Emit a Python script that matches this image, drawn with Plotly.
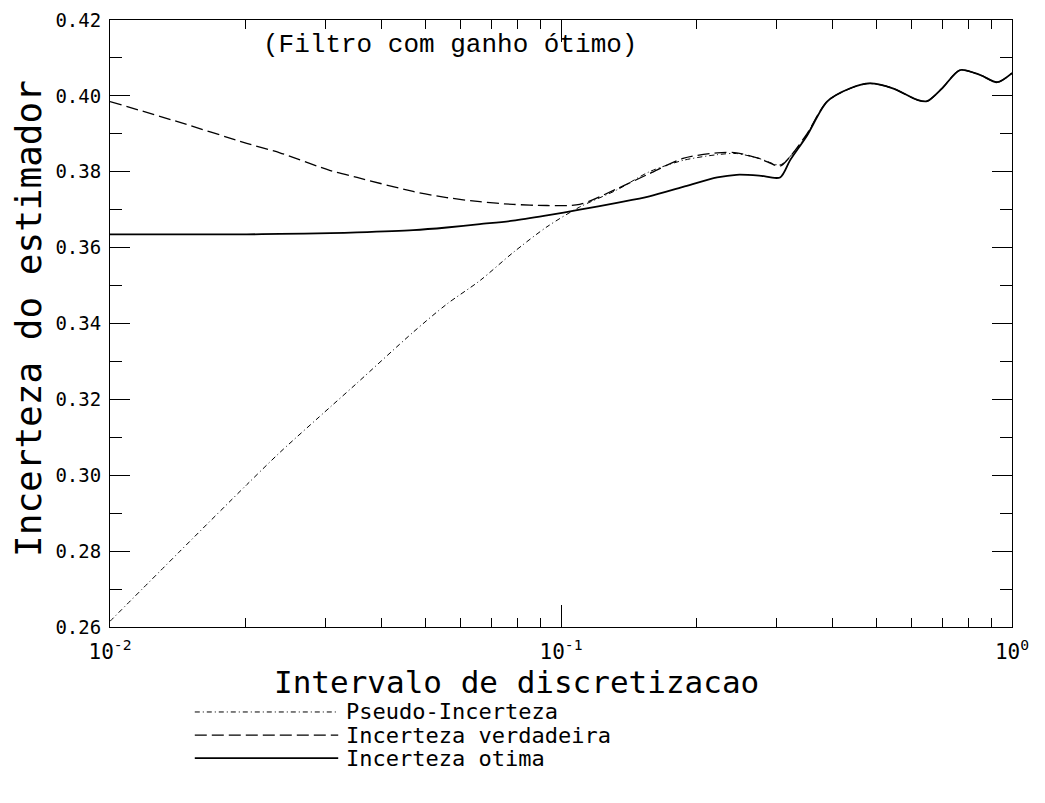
import plotly.graph_objects as go

# ---- data ----
x_interval = [0.01, 0.0143, 0.0201, 0.0238, 0.0308, 0.0353, 0.047, 0.0558, 0.0661, 0.0783,
              0.0931, 0.11, 0.133, 0.157, 0.1865, 0.222, 0.245, 0.275, 0.306, 0.322,
              0.351, 0.389, 0.438, 0.484, 0.544, 0.615, 0.648, 0.70, 0.767, 0.85, 0.927, 1.0]

pseudo_incerteza = [0.2615, 0.2800, 0.2975, 0.3060, 0.3180, 0.3243, 0.3377, 0.3451, 0.3513, 0.3587,
                    0.3655, 0.3707, 0.3752, 0.3800, 0.3830, 0.3845, 0.3848, 0.3835, 0.3818, 0.3840,
                    0.3898, 0.3985, 0.4020, 0.4033, 0.4020, 0.3990, 0.3986, 0.4020, 0.4068, 0.4055, 0.4036, 0.4060]

incerteza_verdadeira = [0.3985, 0.3930, 0.3875, 0.3850, 0.3803, 0.3785, 0.3748, 0.3732, 0.3721, 0.3714,
                        0.3711, 0.3714, 0.3755, 0.3795, 0.3835, 0.3850, 0.3850, 0.3835, 0.3815, 0.3840,
                        0.3900, 0.3985, 0.4020, 0.4033, 0.4020, 0.3990, 0.3986, 0.4020, 0.4068, 0.4055, 0.4036, 0.4060]

incerteza_otima = [0.3635, 0.3635, 0.3635, 0.3636, 0.3638, 0.3640, 0.3646, 0.3653, 0.3662, 0.3671,
                   0.3685, 0.3700, 0.3718, 0.3735, 0.3760, 0.3785, 0.3792, 0.3790, 0.3785, 0.3830,
                   0.3895, 0.3985, 0.4020, 0.4033, 0.4020, 0.3990, 0.3986, 0.4020, 0.4068, 0.4055, 0.4036, 0.4060]

series_names = ["Pseudo-Incerteza", "Incerteza verdadeira", "Incerteza otima"]

y_tick_vals = [0.26, 0.28, 0.30, 0.32, 0.34, 0.36, 0.38, 0.40, 0.42]
y_tick_text = ["0.26", "0.28", "0.30", "0.32", "0.34", "0.36", "0.38", "0.40", "0.42"]
x_tick_vals = [0.01, 0.1, 1.0]
x_tick_text = ["10<sup>-2</sup>", "10<sup>-1</sup>", "10<sup>0</sup>"]
x_minor_vals = [m * d for d in (0.01, 0.1) for m in range(2, 10)]

MONO = "DejaVu Sans Mono"
styles = [dict(color="black", width=1, dash="5px,3px,1px,3px"),
          dict(color="black", width=1.3, dash="12px,5px"),
          dict(color="black", width=1.8, dash="solid")]

fig = go.Figure()
for name, yv, st in zip(series_names,
                        [pseudo_incerteza, incerteza_verdadeira, incerteza_otima], styles):
    fig.add_trace(go.Scatter(x=x_interval, y=yv, mode="lines", name=name,
                             line=dict(shape="spline", smoothing=0.8, **st),
                             showlegend=False))

fig.update_xaxes(type="log", range=[-2, 0], tickvals=x_tick_vals, ticktext=x_tick_text,
                 ticks="inside", ticklen=22, tickwidth=1, tickcolor="black",
                 showline=True, linecolor="black", linewidth=1, mirror="ticks",
                 showgrid=False, zeroline=False, ticklabelstandoff=6,
                 tickfont=dict(family=MONO, size=21, color="black"),
                 minor=dict(tickvals=x_minor_vals, ticks="inside", ticklen=9,
                            tickcolor="black", showgrid=False))
fig.update_yaxes(range=[0.26, 0.42], tickvals=y_tick_vals, ticktext=y_tick_text,
                 ticks="inside", ticklen=20, tickwidth=1, tickcolor="black",
                 showline=True, linecolor="black", linewidth=1, mirror="ticks",
                 showgrid=False, zeroline=False, ticklabelstandoff=4,
                 tickfont=dict(family=MONO, size=19, color="black"),
                 minor=dict(dtick=0.01, ticks="inside", ticklen=12,
                            tickcolor="black", showgrid=False))

fig.add_annotation(text="(Filtro com ganho ótimo)", xref="paper", yref="paper",
                   x=0.377, y=0.959, xanchor="center", yanchor="middle", showarrow=False,
                   font=dict(family="Liberation Mono", size=26, color="black"))
fig.add_annotation(text="Intervalo de discretizacao", xref="paper", yref="paper",
                   x=0.451, y=-0.090, xanchor="center", yanchor="middle", showarrow=False,
                   font=dict(family=MONO, size=31, color="black"))
fig.add_annotation(text="Incerteza do estimador", xref="paper", yref="paper",
                   x=-0.091, y=0.509, xanchor="center", yanchor="middle", showarrow=False,
                   textangle=-90,
                   font=dict(family=MONO, size=36, color="black"))

# legend drawn below the axis title: sample line + label per series
legend_rows_y = [-0.140, -0.178, -0.216]
for name, st, ly in zip(series_names, styles, legend_rows_y):
    fig.add_shape(type="line", xref="paper", yref="paper",
                  x0=0.094, x1=0.253, y0=ly, y1=ly,
                  line=dict(color=st["color"], width=st["width"], dash=st["dash"]))
    fig.add_annotation(text=name, xref="paper", yref="paper",
                       x=0.259, y=ly, xanchor="left", yanchor="middle", showarrow=False,
                       font=dict(family=MONO, size=22, color="black"))

fig.update_layout(
    width=1037, height=795,
    margin=dict(l=102, r=33, t=12, b=176, autoexpand=False),
    paper_bgcolor="white", plot_bgcolor="white",
    showlegend=False,
)

fig.write_html("out.html")
